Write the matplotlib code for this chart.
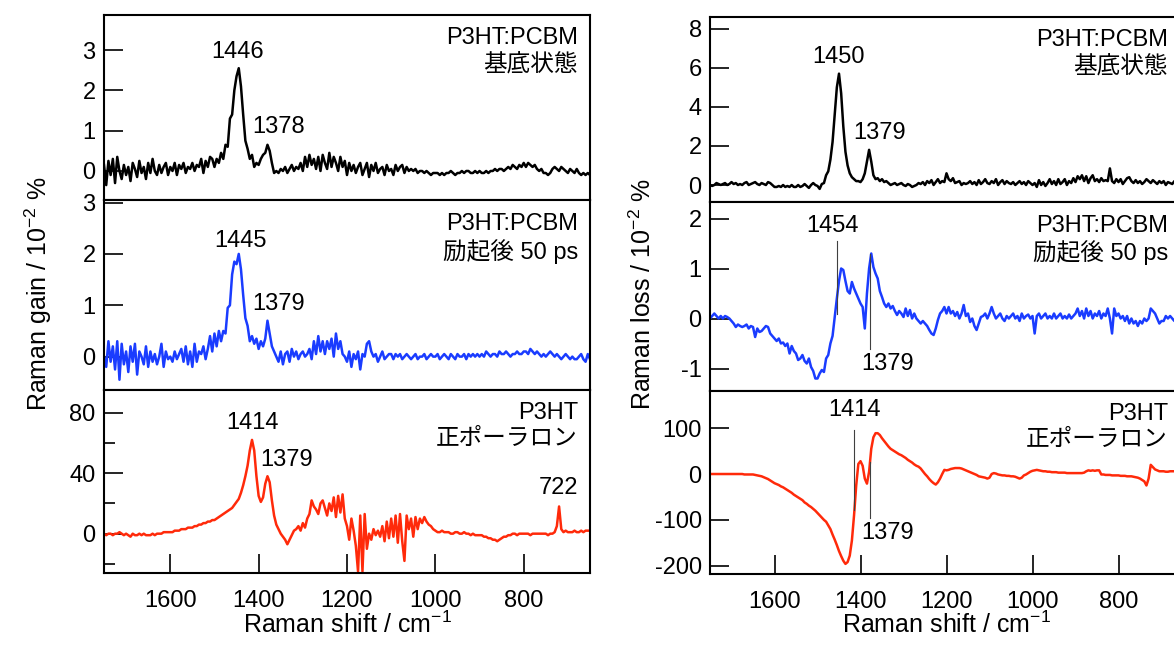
import matplotlib
matplotlib.use('Agg')
import matplotlib.pyplot as plt
from matplotlib.ticker import MultipleLocator, NullLocator
import numpy as np

plt.rcParams['font.family'] = ['Liberation Sans', 'Noto Sans CJK JP']
plt.rcParams['mathtext.fontset'] = 'custom'
plt.rcParams['mathtext.rm'] = 'Liberation Sans'
plt.rcParams['mathtext.it'] = 'Liberation Sans:italic'
plt.rcParams['axes.unicode_minus'] = False

# Raman shift grid (cm-1), 1750 -> 650 every 5
shift = np.arange(1750, 649, -5)

# left column: Raman gain / 10^-2 %
gain_ground = [
    0.15, -0.35, 0.25, -0.1, 0.3, -0.3, 0.35, 0.0, -0.2, 0.15,
    -0.1, 0.1, -0.25, 0.2, 0.05, -0.15, 0.25, -0.05, 0.1, -0.2,
    0.2, -0.05, 0.3, 0.0, -0.1, 0.15, -0.05, 0.1, 0.2, -0.1,
    0.1, 0.0, 0.2, -0.1, 0.15, 0.05, 0.2, -0.05, 0.1, 0.05,
    0.2, 0.0, 0.15, 0.1, 0.3, -0.05, 0.25, 0.1, 0.35, 0.3,
    0.1, 0.3, 0.2, 0.45, 0.3, 0.65, 0.6, 1.3, 1.4, 2.0,
    2.35, 2.55, 2.1, 1.4, 0.75, 0.55, 0.3, 0.4, 0.1, 0.2,
    0.15, 0.3, 0.4, 0.45, 0.65, 0.5, 0.2, -0.05, 0.0, -0.05,
    0.05, 0.0, 0.1, -0.05, 0.05, 0.15, 0.0, 0.1, 0.05, 0.2,
    0.0, 0.35, 0.1, 0.4, 0.15, 0.3, 0.05, 0.35, 0.0, 0.4,
    0.2, 0.05, 0.45, 0.1, 0.35, 0.2, 0.0, 0.35, 0.1, 0.25,
    -0.1, 0.2, 0.0, 0.15, -0.05, 0.1, 0.2, -0.1, 0.05, 0.2,
    -0.15, 0.15, 0.0, 0.2, -0.05, 0.05, 0.1, -0.1, 0.15, 0.0,
    0.05, -0.1, 0.15, 0.0, 0.1, 0.15, -0.05, 0.1, 0.0, 0.05,
    0.0, 0.05, -0.05, 0.0, 0.0, -0.05, 0.0, -0.05, -0.1, -0.05,
    -0.05, -0.05, -0.1, -0.05, -0.1, -0.05, -0.05, 0.0, -0.05, -0.1,
    -0.05, -0.05, 0.0, -0.05, 0.0, 0.0, -0.05, -0.05, 0.0, -0.05,
    0.0, -0.05, -0.05, 0.0, -0.05, 0.0, 0.0, 0.05, 0.0, 0.05,
    0.05, 0.0, 0.05, 0.1, 0.05, 0.15, 0.1, 0.05, 0.15, 0.1,
    0.2, 0.1, 0.2, 0.15, 0.1, 0.15, 0.05, 0.0, 0.05, -0.05,
    -0.05, -0.1, -0.05, 0.05, 0.1, 0.05, 0.0, 0.1, 0.05, 0.0,
    -0.05, 0.05, 0.0, -0.05, 0.05, -0.05, -0.1, -0.05, -0.1, -0.05,
    -0.1]

gain_50ps = [
    0.0, -0.2, 0.3, -0.1, 0.2, -0.25, 0.3, -0.45, 0.25, -0.15,
    0.1, -0.3, 0.2, -0.1, 0.25, -0.35, 0.1, 0.0, -0.15, 0.2,
    -0.2, 0.1, -0.1, 0.05, -0.15, 0.0, 0.25, -0.2, 0.1, -0.05,
    0.0, -0.1, 0.1, -0.05, 0.05, 0.15, -0.1, 0.2, -0.15, 0.1,
    -0.2, 0.25, -0.1, 0.1, 0.05, 0.2, -0.05, 0.15, 0.4, 0.1,
    0.45, 0.2, 0.5, 0.3, 0.5, 0.45, 0.95, 1.0, 1.6, 1.85,
    1.8, 2.0, 1.7, 1.2, 0.75, 0.6, 0.3, 0.4, 0.25, 0.35,
    0.15, 0.3, 0.2, 0.35, 0.7, 0.45, 0.2, 0.1, 0.0, -0.1,
    0.1, -0.15, 0.05, 0.1, -0.1, 0.15, 0.0, 0.1, -0.05, 0.05,
    0.1, 0.0, 0.05, 0.15, -0.05, 0.3, 0.05, 0.4, 0.1, 0.3,
    0.05, 0.3, 0.15, 0.35, 0.0, 0.45, 0.15, 0.3, 0.05, 0.0,
    -0.1, 0.1, -0.2, 0.05, -0.05, 0.1, -0.25, 0.05, 0.0, 0.25,
    0.3, 0.1, 0.0, 0.05, -0.1, 0.0, 0.1, -0.05, 0.0, 0.05,
    0.05, -0.05, 0.05, 0.0, 0.05, -0.05, 0.0, 0.05, 0.0, -0.05,
    0.0, 0.05, -0.05, 0.0, 0.0, 0.05, -0.05, 0.0, 0.05, 0.0,
    0.0, 0.05, -0.05, 0.0, 0.05, 0.0, -0.05, 0.05, 0.0, -0.05,
    0.05, 0.0, 0.0, 0.05, -0.05, 0.05, 0.0, 0.05, 0.0, 0.05,
    0.0, 0.05, 0.0, 0.1, 0.05, 0.0, 0.05, 0.05, 0.0, 0.1,
    0.05, 0.05, 0.1, 0.05, 0.0, 0.05, 0.05, 0.1, 0.05, 0.05,
    0.1, 0.1, 0.05, 0.15, 0.1, 0.05, 0.1, 0.05, 0.0, 0.05,
    0.0, 0.05, 0.1, 0.05, 0.0, 0.05, 0.0, -0.05, 0.0, 0.05,
    0.0, -0.05, 0.0, -0.05, -0.05, 0.0, 0.05, -0.05, -0.1, 0.05,
    -0.05]

gain_polaron = [
    0, -1, 0, 0, -1, 0, 0, 1, 0, -1,
    0, -1, -2, 0, -1, -1, 0, -1, 0, -1,
    -1, -1, 0, -1, 0, 0, 0, 1, 1, 1,
    1, 1, 2, 2, 2, 3, 3, 3, 4, 4,
    4, 5, 5, 6, 6, 7, 7, 8, 8, 9,
    9, 10, 11, 12, 13, 14, 15, 16, 17, 19,
    21, 23, 27, 32, 38, 45, 55, 62, 55, 38,
    25, 21, 24, 33, 38, 34, 22, 12, 6, 3,
    0, -2, -4, -7, -4, -1, 2, 3, 5, 2,
    7, 4, 10, 13, 22, 18, 16, 13, 20, 22,
    17, 12, 20, 15, 24, 11, 25, 14, 26, 10,
    5, -4, 10, 2, -8, -25, 12, -25, 13, -10,
    0, -4, 3, -1, 2, -2, 5, -5, 8, -3,
    10, -2, 12, -6, 13, -5, -18, 12, 3, 10,
    -2, 11, 3, 10, 7, 11, 8, 6, 5, 3,
    2, 1, 1, 2, 1, 1, 1, 0, 0, 1,
    1, 0, 0, 1, 0, 0, -1, 0, -1, -1,
    -1, -1, -2, -2, -3, -3, -4, -4, -5, -4,
    -3, -2, -2, -1, -1, 0, 0, -1, 0, 0,
    0, 0, 0, -1, 0, 0, 0, 0, 0, 0,
    0, -1, 0, 0, 1, 5, 18, 3, 1, 2,
    1, 1, 1, 2, 1, 1, 2, 1, 2, 2,
    2]

# right column: Raman loss / 10^-2 %
loss_ground = [
    0.0, -0.05, 0.0, 0.1, 0.05, 0.0, 0.05, 0.1, 0.0, 0.05,
    0.15, 0.05, 0.1, 0.0, 0.05, 0.0, 0.1, 0.15, 0.0, 0.05,
    0.1, 0.15, 0.05, 0.0, 0.1, 0.05, 0.0, 0.15, 0.1, 0.0,
    -0.1, -0.1, -0.05, -0.1, 0.0, -0.1, -0.05, -0.1, 0.0, -0.1,
    -0.1, 0.0, -0.1, -0.05, 0.05, -0.05, -0.15, 0.0, 0.1, 0.0,
    -0.05, -0.2, 0.05, 0.1, 0.5, 0.7, 1.3, 2.2, 3.6, 5.0,
    5.7, 4.7, 3.0, 1.7, 1.0, 0.6, 0.4, 0.3, 0.2, 0.2,
    0.15, 0.3, 0.6, 1.2, 1.8, 1.2, 0.5, 0.3, 0.35, 0.2,
    0.3, 0.15, 0.2, 0.1, 0.0, 0.05, 0.1, 0.0, 0.05, 0.1,
    0.0, -0.05, 0.05, 0.0, -0.1, -0.05, 0.0, 0.1, 0.05, 0.15,
    0.0, 0.2, 0.1, 0.25, 0.0, 0.15, 0.3, 0.1, 0.2, 0.15,
    0.6, 0.3, 0.2, 0.35, 0.1, 0.15, 0.2, 0.0, 0.1, 0.05,
    0.1, 0.2, 0.05, 0.15, 0.0, 0.25, 0.05, 0.15, 0.3, 0.1,
    0.05, 0.2, 0.1, 0.3, 0.0, 0.15, 0.25, 0.05, 0.2, 0.1,
    0.05, 0.15, 0.0, 0.1, 0.2, 0.05, 0.15, 0.0, 0.2, 0.1,
    0.0, 0.1, -0.1, 0.25, 0.0, 0.15, -0.05, 0.1, 0.3, 0.05,
    0.2, 0.0, 0.3, 0.05, 0.15, 0.3, 0.0, 0.2, 0.1, 0.35,
    0.15, 0.45, 0.3, 0.5, 0.2, 0.45, 0.1, 0.35, 0.5, 0.2,
    0.3, 0.15, 0.35, 0.2, 0.25, 0.2, 0.85, 0.2, 0.1, 0.3,
    0.15, 0.3, 0.05, 0.2, 0.35, 0.4, 0.2, 0.1, 0.25, 0.1,
    0.2, 0.05, 0.15, 0.3, 0.2, 0.1, 0.25, 0.15, 0.05, 0.2,
    0.1, 0.2, 0.0, 0.15, 0.1, 0.05, 0.2, 0.1, 0.0, 0.1,
    0.1]

loss_50ps = [
    0.0, 0.05, 0.1, 0.05, 0.0, 0.05, 0.0, 0.05, 0.03, 0.0,
    -0.05, -0.1, -0.17, -0.12, -0.15, -0.17, -0.15, -0.12, -0.2, -0.15,
    -0.17, -0.37, -0.2, -0.27, -0.25, -0.2, -0.15, -0.17, -0.3, -0.35,
    -0.4, -0.45, -0.4, -0.5, -0.48, -0.55, -0.5, -0.7, -0.55, -0.65,
    -0.7, -0.83, -0.8, -0.73, -0.85, -0.9, -0.8, -0.97, -1.05, -1.2,
    -1.2, -1.1, -1.03, -1.07, -0.8, -0.73, -0.5, -0.35, 0.03, 0.4,
    0.75, 1.0, 0.97, 0.75, 0.55, 0.5, 0.73, 0.6, 0.5, 0.4,
    0.3, 0.23, -0.2, 0.5, 1.0, 1.3, 1.03, 0.9, 0.8, 0.55,
    0.43, 0.3, 0.23, 0.3, 0.2, 0.25, 0.15, 0.07, 0.15, 0.1,
    0.03, 0.2, 0.05, 0.17, 0.0, 0.1, 0.0, -0.05, -0.1, -0.05,
    -0.1, -0.15, -0.23, -0.3, -0.33, -0.2, -0.03, 0.1, 0.15, 0.23,
    0.1, 0.23, 0.1, 0.15, 0.05, 0.13, 0.0, 0.1, 0.27, 0.05,
    0.1, -0.07, 0.0, -0.15, -0.23, -0.1, 0.03, 0.05, 0.1, 0.0,
    0.1, 0.23, 0.1, 0.0, 0.05, 0.1, 0.0, -0.05, 0.05, 0.0,
    0.05, 0.1, 0.0, 0.05, -0.05, 0.1, 0.0, 0.05, 0.08, 0.0,
    0.05, -0.3, 0.05, 0.1, 0.0, 0.05, 0.1, 0.0, 0.05, 0.0,
    0.1, 0.0, 0.05, 0.1, 0.0, 0.05, 0.0, 0.08, 0.0, 0.05,
    0.1, 0.2, 0.05, 0.15, 0.0, 0.2, 0.05, 0.15, 0.0, 0.1,
    0.05, 0.15, 0.0, 0.1, 0.05, 0.2, 0.0, -0.3, 0.2, 0.05,
    0.1, 0.0, 0.05, -0.05, 0.05, -0.1, 0.0, -0.1, -0.05, -0.15,
    -0.05, -0.1, 0.0, -0.05, 0.0, 0.2, 0.15, 0.1, 0.0, -0.1,
    -0.05, -0.05, 0.05, 0.0, 0.05, 0.0, -0.05, 0.05, 0.0, 0.05,
    0.0]

loss_polaron = [
    0, 0, 0, 0, 0, 0, 0, 0, 0, 0,
    0, 0, 0, 0, 0, 0, -1, -1, -1, -1,
    -1, -2, -3, -4, -5, -7, -9, -11, -14, -17,
    -20, -22, -24, -27, -29, -32, -35, -38, -41, -45,
    -48, -51, -54, -57, -62, -65, -69, -72, -76, -80,
    -85, -90, -95, -100, -104, -112, -120, -132, -143, -155,
    -168, -179, -189, -196, -192, -178, -145, -90, -25, 22,
    28, 18, -10, -21, 5, 55, 80, 89, 89, 85,
    78, 72, 66, 60, 55, 52, 49, 46, 43, 41,
    38, 35, 31, 28, 25, 21, 18, 16, 12, 6,
    0, -5, -11, -16, -20, -23, -18, -10, 0, 9,
    8, 9, 11, 12, 13, 13, 13, 12, 10, 8,
    6, 4, 2, 0, -2, -5, -6, -7, -8, -10,
    -8, 0, 2, 1, -1, -2, -3, -3, -4, -4,
    -5, -5, -6, -8, -10, -8, -3, -1, 2, 5,
    7, 8, 9, 8, 7, 6, 6, 5, 5, 4,
    4, 4, 3, 3, 3, 3, 2, 2, 2, 2,
    2, 2, 2, 2, 3, 6, 8, 7, 8, 7,
    8, 8, -1, -1, -2, -2, -2, -3, -3, -3,
    -3, -4, -4, -4, -5, -5, -5, -6, -7, -8,
    -10, -13, -16, -25, -10, 20, 15, 10, 8, 6,
    6, 6, 5, 5, 6, 6, 6, 5, 5, 5,
    5]

# panel texts and peak labels (shift, value, text)
state_lines = [('P3HT:PCBM', '基底状態'), ('P3HT:PCBM', '励起後 50 ps'), ('P3HT', '正ポーラロン')]
gain_peaks = [
    [(1447, 2.95, '1446'), (1356, 1.09, '1378')],
    [(1442, 2.25, '1445'), (1356, 1.03, '1379')],
    [(1415, 73, '1414'), (1336, 48.6, '1379'), (722, 30, '722')],
]
loss_peaks = [
    [(1452, 6.56, '1450'), (1355, 2.67, '1379')],
    [(1466, 1.85, '1454'), (1336, -0.91, '1379')],
    [(1413, 140, '1414'), (1338, -128, '1379')],
]
# marker lines (shift, y from, y to)
loss_marks = [
    [],
    [(1454, 1.55, 0.1), (1379, 1.3, -0.6)],
    [(1414, 96, -78), (1379, 27, -95)],
]

blue = '#1a3cff'
red = '#ff2a0a'
fs = 17

fig = plt.figure(figsize=(11.74, 6.46), dpi=100)
W, H = 1174.0, 646.0


def make_axes(x0, x1, y0, y1):
    return fig.add_axes([x0 / W, 1 - y1 / H, (x1 - x0) / W, (y1 - y0) / H])


def style(ax, ylim, major, minor=None, bottom=False):
    ax.set_xlim(1750, 650)
    ax.set_ylim(*ylim)
    ax.yaxis.set_major_locator(MultipleLocator(major))
    if minor:
        ax.yaxis.set_minor_locator(MultipleLocator(minor))
    for s in ax.spines.values():
        s.set_linewidth(1.5)
    ax.tick_params(axis='y', which='major', direction='in', length=13.5, width=1.2,
                   labelsize=fs, pad=6)
    ax.tick_params(axis='y', which='minor', direction='in', length=8, width=1.2)
    ax.tick_params(axis='x', which='major', direction='in', length=13.5, width=1.2,
                   labelsize=fs, pad=12, top=False)
    ax.xaxis.set_major_locator(MultipleLocator(200))
    if not bottom:
        ax.xaxis.set_major_locator(NullLocator())


left_rows = [(15, 200), (200, 390), (390, 573)]
right_rows = [(17, 202), (202, 391), (391, 574)]
gain_data = [gain_ground, gain_50ps, gain_polaron]
loss_data = [loss_ground, loss_50ps, loss_polaron]
colors = ['black', blue, red]
gain_lims = [(-0.72, 3.87), (-0.65, 3.05), (-26, 95)]
loss_lims = [(-0.87, 8.6), (-1.45, 2.33), (-218, 181)]
gain_major = [1, 1, 40]
gain_minor = [None, None, 20]
loss_major = [2, 1, 100]

for i in range(3):
    ax = make_axes(104, 590, *left_rows[i])
    style(ax, gain_lims[i], gain_major[i], gain_minor[i], bottom=(i == 2))
    ax.plot(shift, gain_data[i], color=colors[i], lw=1.8)
    for x, y, t in gain_peaks[i]:
        ax.text(x, y, t, ha='center', va='center', fontsize=fs)
    ax.text(0.975, 0.875, state_lines[i][0], transform=ax.transAxes,
            ha='right', va='center', fontsize=fs)
    ax.text(0.975, 0.73, state_lines[i][1], transform=ax.transAxes,
            ha='right', va='center', fontsize=fs)

for i in range(3):
    ax = make_axes(710, 1183, *right_rows[i])
    style(ax, loss_lims[i], loss_major[i], None, bottom=(i == 2))
    ax.plot(shift, loss_data[i], color=colors[i], lw=1.8)
    for x, y, t in loss_peaks[i]:
        ax.text(x, y, t, ha='center', va='center', fontsize=fs)
    for x, ya, yb in loss_marks[i]:
        ax.plot([x, x], [ya, yb], color='0.25', lw=0.8)
    ax.text(0.968, 0.875, state_lines[i][0], transform=ax.transAxes,
            ha='right', va='center', fontsize=fs)
    ax.text(0.968, 0.73, state_lines[i][1], transform=ax.transAxes,
            ha='right', va='center', fontsize=fs)

fig.text(38 / W, 1 - 294 / H, 'Raman gain / 10$^{-2}$ %', rotation=90,
         ha='center', va='center', fontsize=18)
fig.text(643 / W, 1 - 294 / H, 'Raman loss / 10$^{-2}$ %', rotation=90,
         ha='center', va='center', fontsize=18)
fig.text(347 / W, 1 - 625 / H, 'Raman shift / cm$^{-1}$', ha='center', va='center', fontsize=18)
fig.text(946 / W, 1 - 625 / H, 'Raman shift / cm$^{-1}$', ha='center', va='center', fontsize=18)

fig.savefig('out.png', dpi=100)
